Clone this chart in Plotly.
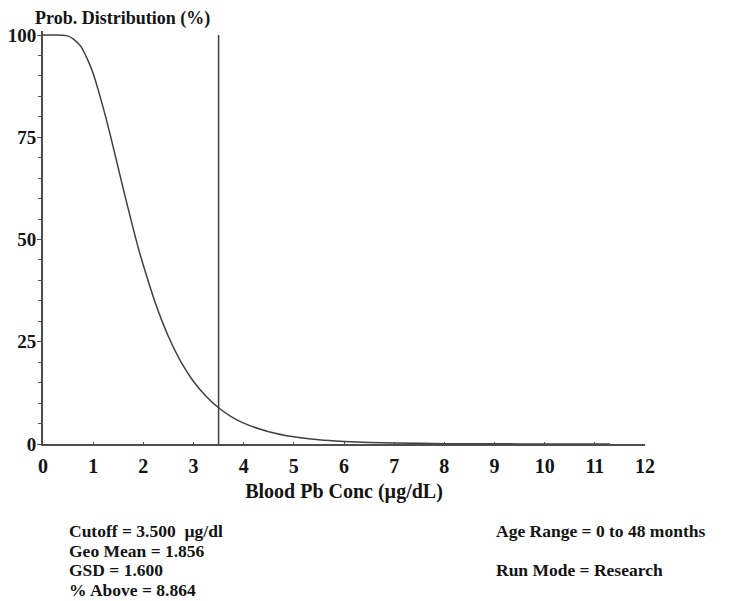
import plotly.graph_objects as go

# Blood Pb concentration (µg/dL) and % of population above that concentration
conc = [0.0, 0.25, 0.4, 0.5, 0.6, 0.75, 0.9, 1.0, 1.1, 1.25, 1.4, 1.5, 1.6, 1.75, 1.9, 2.0, 2.25,
        2.5, 2.75, 3.0, 3.25, 3.5, 3.75, 4.0, 4.5, 5.0, 5.5, 6.0, 6.5, 7.0, 8.0, 9.0, 10.0, 11.0, 11.3]
pct_above = [100.0, 100.0, 99.95, 99.74, 99.1, 97.3, 93.7, 90.6, 86.6, 80.0, 72.6, 67.5, 62.4, 55.0,
             47.9, 43.7, 34.1, 26.3, 20.1, 15.3, 11.7, 8.86, 6.7, 5.1, 3.0, 1.75, 1.04, 0.63, 0.38,
             0.24, 0.09, 0.04, 0.017, 0.008, 0.006]

cutoff = [3.5, 3.5]
cutoff_span = [0, 100]

x_ticks = list(range(0, 13))
y_ticks = [0, 25, 50, 75, 100]

info_left = ["Cutoff = 3.500  \u00b5g/dl", "Geo Mean = 1.856", "GSD = 1.600", "% Above = 8.864"]
info_right = ["Age Range = 0 to 48 months", "", "Run Mode = Research", ""]

FONT = "Liberation Serif"
TXT = "#141414"
LINE = "#4d4d4d"
FS = 20

# page is shown with an 8px body margin; work in page pixels, convert to figure pixels
OFF = 8
W, H = 754 - OFF, 601 - OFF
X0, X1 = 43 - OFF, 645 - OFF        # plot area left/right (figure px)
YTOP, YBOT = 31 - OFF, 444 - OFF    # plot area top/bottom (figure px)

fig = go.Figure()
fig.add_trace(go.Scatter(x=conc, y=pct_above, mode="lines",
                         line=dict(color="#404040", width=1.5, shape="spline", smoothing=0.6),
                         hoverinfo="skip", showlegend=False))
fig.add_trace(go.Scatter(x=cutoff, y=cutoff_span, mode="lines", line=dict(color="#404040", width=1.5),
                         hoverinfo="skip", showlegend=False))


def px(xpage):
    return (xpage - OFF - X0) / (X1 - X0)


def py(ypage):
    return (YBOT - (ypage - OFF)) / (YBOT - YTOP)


tick_font = dict(family=FONT, size=FS, color=TXT, weight="bold")

fig.update_layout(
    width=W, height=H,
    margin=dict(l=X0, r=W - X1, t=YTOP, b=H - YBOT, pad=0, autoexpand=False),
    paper_bgcolor="white", plot_bgcolor="white",
    font=dict(family=FONT, color=TXT, size=FS),
    xaxis=dict(range=[0, 12], tickvals=x_ticks, ticktext=[str(v) for v in x_ticks], automargin=False,
               showgrid=False, zeroline=False, showline=True, linecolor=LINE, linewidth=2,
               ticks="inside", ticklen=2, tickcolor=LINE, ticklabelstandoff=3,
               tickfont=tick_font,
               title=dict(text="Blood Pb Conc (\u00b5g/dL)", font=tick_font, standoff=8)),
    yaxis=dict(range=[0, 101], tickvals=y_ticks, ticktext=[str(v) for v in y_ticks], automargin=False,
               showgrid=False, zeroline=False, showline=True, linecolor=LINE, linewidth=2,
               ticks="outside", ticklen=4, tickcolor=LINE, ticklabelstandoff=-3,
               minor=dict(dtick=5, ticks="outside", ticklen=3, tickcolor=LINE),
               tickfont=dict(family=FONT, size=19, color=TXT, weight="bold")),
)

ann = [dict(text="Prob. Distribution (%)", x=px(33), y=py(19), xanchor="left", yanchor="middle", size=18)]
ys_rows = [531, 550.5, 570, 589.5]
for t, yy in zip(info_left, ys_rows):
    if t:
        ann.append(dict(text=t, x=px(67), y=py(yy), xanchor="left", yanchor="middle", size=17.5))
for t, yy in zip(info_right, ys_rows):
    if t:
        ann.append(dict(text=t, x=px(494), y=py(yy), xanchor="left", yanchor="middle", size=17.5))
for a in ann:
    s = a.pop("size")
    a.update(xref="paper", yref="paper", showarrow=False,
             font=dict(family=FONT, size=s, color=TXT, weight="bold"))
fig.update_layout(annotations=ann)

fig.write_html("out.html")
